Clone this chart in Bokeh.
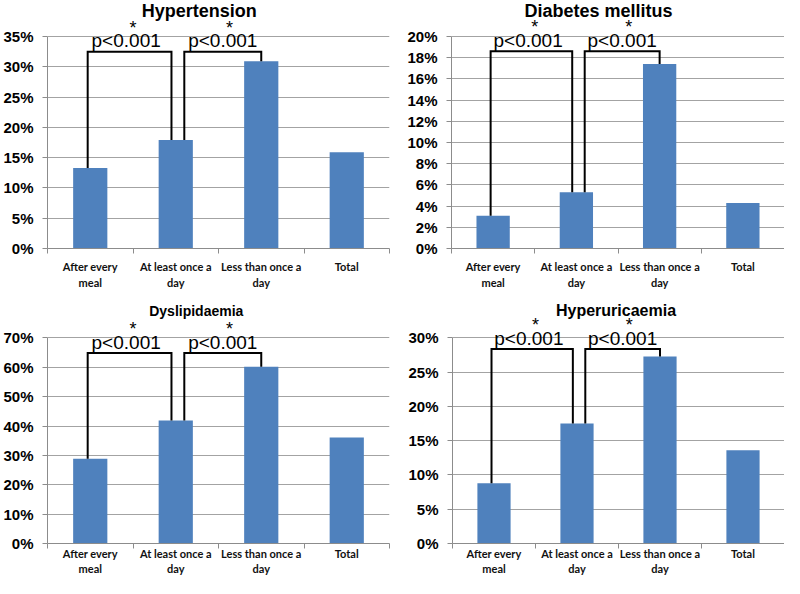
from bokeh.plotting import figure
from bokeh.layouts import column, row
from bokeh.models import Range1d, FixedTicker, PrintfTickFormatter
from bokeh.core.properties import value
from bokeh.embed import file_html
from bokeh.resources import INLINE

# ---------------- data ----------------
categories = ["After every\nmeal", "At least once a\nday", "Less than once a\nday", "Total"]
titles = ["Hypertension", "Diabetes mellitus", "Dyslipidaemia", "Hyperuricaemia"]
hypertension = [13.3, 17.9, 30.9, 15.9]
diabetes = [3.1, 5.3, 17.4, 4.3]
dyslipidaemia = [28.9, 41.9, 60.2, 36.1]
hyperuricaemia = [8.8, 17.5, 27.3, 13.6]
axis_max = [35, 20, 70, 30]
tick_step = [5, 2, 10, 5]
bracket_level = [32.5, 18.6, 64.9, 28.4]
p_text = "p<0.001"
star_text = "*"

series = [hypertension, diabetes, dyslipidaemia, hyperuricaemia]

# ---------------- layout (positions / styles only) ----------------
layouts = [
    dict(w=395, h=292, bl=46, br=6, bb=44, plot_h=212, title_fs=18, title_x=1.776, title_base=10,
         std_x=6, lh=1.3),
    dict(w=389, h=292, bl=56, br=0, bb=44, plot_h=212, title_fs=18, title_x=1.766, title_base=10,
         std_x=6, lh=1.3),
    dict(w=395, h=286, bl=46, br=6, bb=32, plot_h=208, title_fs=14, title_x=1.74, title_base=19,
         std_x=-2, lh=1.2),
    dict(w=389, h=286, bl=57, br=0, bb=32, plot_h=208, title_fs=16, title_x=1.97, title_base=18,
         std_x=-2, lh=1.2),
]

BAR = "#4f81bd"
GRID = "#a3a3a3"
AXIS = "#8c8c8c"
centers = [i + 0.5 for i in range(len(categories))]
# bracket leg positions (category units)
leg1 = (0.47, 1.45)
leg2 = (1.60, 2.50)
txt_x = (0.92, 2.05)
star_x = (1.0, 2.13)


def make_panel(k):
    L = layouts[k]
    vals = series[k]
    ymax = axis_max[k]
    frame_h = L["h"] - L["bb"]
    upp = ymax / L["plot_h"]  # data units per pixel
    y_end = frame_h * upp

    p = figure(width=L["w"], height=L["h"], output_backend="svg", toolbar_location=None,
               x_range=Range1d(0, 4), y_range=Range1d(0, y_end),
               min_border_left=L["bl"], min_border_right=L["br"],
               min_border_top=0, min_border_bottom=L["bb"])
    p.outline_line_color = None
    p.background_fill_color = "white"
    p.border_fill_color = "white"

    p.vbar(x=centers, top=vals, width=0.4, bottom=0, fill_color=BAR, line_color=None)

    # axes
    yt = list(range(0, ymax + 1, tick_step[k]))
    p.yaxis.ticker = FixedTicker(ticks=yt)
    p.yaxis.formatter = PrintfTickFormatter(format="%d%%")
    p.yaxis.bounds = (0, ymax)
    p.yaxis.axis_line_color = AXIS
    p.yaxis.major_tick_line_color = AXIS
    p.yaxis.major_tick_out = 5
    p.yaxis.major_tick_in = 0
    p.yaxis.minor_tick_line_color = None
    p.yaxis.major_label_standoff = 9
    p.yaxis.major_label_text_font = "Liberation Sans"
    p.yaxis.major_label_text_font_style = "bold"
    p.yaxis.major_label_text_font_size = "15px"
    p.yaxis.major_label_text_color = "black"

    p.xaxis.ticker = FixedTicker(ticks=centers, minor_ticks=[0, 1, 2, 3, 4])
    p.xaxis.major_label_overrides = {c: lab for c, lab in zip(centers, categories)}
    p.xaxis.axis_line_color = AXIS
    p.xaxis.major_tick_line_color = None
    p.xaxis.major_tick_out = 0
    p.xaxis.major_tick_in = 0
    p.xaxis.minor_tick_line_color = AXIS
    p.xaxis.minor_tick_out = 5
    p.xaxis.minor_tick_in = 0
    p.xaxis.major_label_standoff = L["std_x"]
    p.xaxis.major_label_text_font = "Lato"
    p.xaxis.major_label_text_font_style = "bold"
    p.xaxis.major_label_text_font_size = "11px"
    p.xaxis.major_label_text_line_height = L["lh"]
    p.xaxis.major_label_text_color = "#111111"

    p.xgrid.grid_line_color = None
    p.ygrid.ticker = FixedTicker(ticks=yt)
    p.ygrid.grid_line_color = GRID
    p.ygrid.grid_line_width = 1

    # brackets
    lvl = bracket_level[k]
    xs = [[leg1[0], leg1[0], leg1[1], leg1[1]], [leg2[0], leg2[0], leg2[1], leg2[1]]]
    ys = [[vals[0], lvl, lvl, vals[1]], [vals[1], lvl, lvl, vals[2]]]
    p.multi_line(xs=xs, ys=ys, line_color="black", line_width=2, line_join="miter")

    base = lvl + 11 * upp
    p.text(x=list(txt_x), y=[base, base], text=[p_text, p_text],
           text_font=value("Liberation Sans"), text_font_size="19px",
           text_align="center", text_baseline="alphabetic", text_color="black")
    sb = base + 13 * upp
    p.text(x=list(star_x), y=[sb, sb], text=[star_text, star_text],
           text_font=value("Liberation Sans"), text_font_size="18px",
           text_align="center", text_baseline="alphabetic", text_color="black")

    # title
    ty = y_end - L["title_base"] * upp
    p.text(x=[L["title_x"]], y=[ty], text=[titles[k]],
           text_font=value("Liberation Sans"), text_font_style="bold",
           text_font_size=f"{L['title_fs']}px",
           text_align="center", text_baseline="alphabetic", text_color="black")
    return p


panels = [make_panel(k) for k in range(4)]
layout = column(row(panels[0], panels[1]), row(panels[2], panels[3]))

open("out.html", "w").write(file_html(layout, INLINE))
